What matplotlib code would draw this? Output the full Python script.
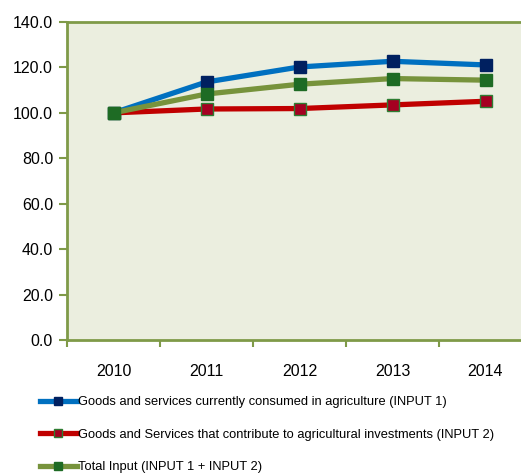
import matplotlib
matplotlib.use("Agg")
import matplotlib.pyplot as plt

years = ["2010", "2011", "2012", "2013", "2014"]
input1 = [100.0, 113.6, 120.2, 122.7, 121.1]
input2 = [100.0, 101.7, 101.9, 103.5, 105.1]
total = [100.0, 108.3, 112.6, 115.1, 114.4]
labels = ["Goods and services currently consumed in agriculture (INPUT 1)",
          "Goods and Services that contribute to agricultural investments (INPUT 2)",
          "Total Input (INPUT 1 + INPUT 2)"]
yticks = [0, 20, 40, 60, 80, 100, 120, 140]

plt.rcParams['font.family'] = ['Liberation Sans', 'DejaVu Sans']

fig = plt.figure(figsize=(5.21, 4.76), dpi=100)
ax = fig.add_axes([67/521, 1 - 340/476, (532 - 67)/521, (340 - 22)/476])
ax.set_facecolor("#ebeedf")
x = list(range(len(years)))

styles = [
    (input1, "#0070c0", "#002060", "#002060"),
    (input2, "#c00000", "#a50021", "#2e7d32"),
    (total, "#77933c", "#1e6b24", "#1e6b24"),
]
handles = []
for (vals, lc, mc, me), lab in zip(styles, labels):
    h, = ax.plot(x, vals, color=lc, lw=3.8, marker="s", ms=8, mfc=mc, mec=me,
                 mew=1, label=lab)
    handles.append(h)

ax.set_xlim(-0.5, 4.5)
ax.set_ylim(0, 140)
ax.set_yticks(yticks)
ax.set_yticklabels(["%.1f" % v for v in yticks])
ax.set_xticks([i - 0.5 for i in range(6)])
ax.set_xticklabels([])
ax.set_xticks(x, minor=True)
ax.set_xticklabels(years, minor=True)
ax.tick_params(axis="x", which="minor", length=0, pad=17, labelsize=11.5)
ax.tick_params(axis="x", which="major", length=5, direction="out", color="#7f9a48", width=1.5)
ax.tick_params(axis="y", length=6, direction="out", color="#7f9a48", width=1.5, labelsize=11.5, pad=4)
for s in ["left", "bottom", "top"]:
    ax.spines[s].set_color("#7f9a48")
    ax.spines[s].set_linewidth(2)
ax.spines["right"].set_visible(False)

leg = fig.legend(handles=handles, loc="upper left", bbox_to_anchor=(40/521, 1 - 396/476),
                 frameon=False, fontsize=9.3, handlelength=2.85, handletextpad=0.1,
                 labelspacing=1.6, borderpad=0, borderaxespad=0, markerscale=0.7)

fig.savefig("out.png", dpi=100)
